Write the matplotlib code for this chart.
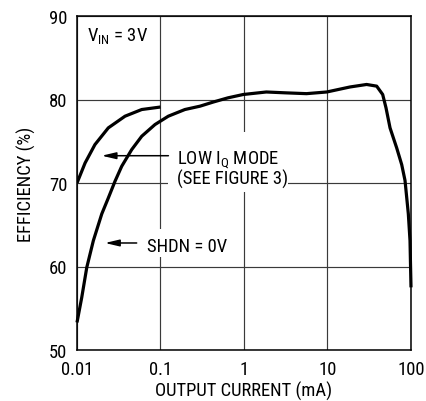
import matplotlib
matplotlib.use("Agg")
import matplotlib.pyplot as plt
from matplotlib.patches import Rectangle
from matplotlib.ticker import FixedLocator, FixedFormatter, NullLocator

font_main = 'Roboto Condensed'
plt.rcParams['font.family'] = [font_main, 'Liberation Sans', 'DejaVu Sans']
plt.rcParams['mathtext.fontset'] = 'custom'
plt.rcParams['mathtext.rm'] = font_main
plt.rcParams['mathtext.it'] = font_main
plt.rcParams['mathtext.bf'] = font_main

# Low IQ mode curve
low_iq_current = [0.01, 0.0125, 0.0164, 0.0237, 0.0376, 0.0596, 0.1]
low_iq_eff = [70.0, 72.4, 74.6, 76.6, 78.0, 78.8, 79.1]

# SHDN = 0V curve
shdn_current = [0.01, 0.0114, 0.0131, 0.0157, 0.0198, 0.0237, 0.0285, 0.0343, 0.0452, 0.0596,
                0.0859, 0.124, 0.196, 0.297, 0.43, 0.643, 0.98, 1.85, 3.1, 5.6, 9.8, 18.6,
                29.4, 38.8, 45.8, 50.2, 56.1, 67.4, 77.4, 84.8, 92.9, 97.3, 100]
shdn_eff = [53.3, 56.3, 59.9, 63.1, 66.3, 68.2, 70.2, 72.0, 74.0, 75.6,
            77.0, 78.0, 78.8, 79.2, 79.7, 80.2, 80.6, 80.9, 80.8, 80.7, 80.9, 81.5,
            81.8, 81.6, 80.6, 79.0, 76.6, 74.2, 72.2, 70.3, 66.3, 63.1, 57.5]

x_ticks = [0.01, 0.1, 1, 10, 100]
x_tick_labels = ['0.01', '0.1', '1', '10', '100']
y_ticks = [50, 60, 70, 80, 90]
y_tick_labels = ['50', '60', '70', '80', '90']

FS = 13.4

fig = plt.figure(figsize=(4.27, 4.02), dpi=100)
ax = fig.add_axes([77/427, 51/402, 334/427, 334/402])

ax.set_xscale('log')
ax.set_xlim(0.01, 100)
ax.set_ylim(50, 90)
ax.xaxis.set_major_locator(FixedLocator(x_ticks))
ax.xaxis.set_major_formatter(FixedFormatter(x_tick_labels))
ax.xaxis.set_minor_locator(NullLocator())
ax.yaxis.set_major_locator(FixedLocator(y_ticks))
ax.yaxis.set_major_formatter(FixedFormatter(y_tick_labels))
ax.tick_params(length=0, labelsize=FS, pad=7)

ax.grid(True, color='#3a3a3a', lw=0.85, zorder=0.5)
ax.set_axisbelow(True)
for s in ax.spines.values():
    s.set_linewidth(1.1)
    s.set_color('black')
    s.set_zorder(5)

ax.plot(low_iq_current, low_iq_eff, color='black', lw=2.3, solid_capstyle='butt',
        solid_joinstyle='round', zorder=4)
ax.plot(shdn_current, shdn_eff, color='black', lw=2.3, solid_capstyle='butt',
        solid_joinstyle='round', zorder=4, clip_on=False)

# white masks behind annotation text
ax.add_patch(Rectangle((0.2725, 0.473), 0.359, 0.18, transform=ax.transAxes,
                       facecolor='white', edgecolor='none', zorder=2))
ax.add_patch(Rectangle((0.1886, 0.2784), 0.27, 0.084, transform=ax.transAxes,
                       facecolor='white', edgecolor='none', zorder=2))

ax.text(0.029, 0.929, r'V$_\mathrm{IN}$ = 3V', transform=ax.transAxes, fontsize=FS,
        ha='left', va='baseline', zorder=6)
ax.text(0.2985, 0.562, r'LOW I$_\mathrm{Q}$ MODE', transform=ax.transAxes, fontsize=FS,
        ha='left', va='baseline', zorder=6)
ax.text(0.2985, 0.497, '(SEE FIGURE 3)', transform=ax.transAxes, fontsize=FS,
        ha='left', va='baseline', zorder=6)
ax.text(0.2105, 0.297, 'SHDN = 0V', transform=ax.transAxes, fontsize=FS,
        ha='left', va='baseline', zorder=6)

arrow_kw = dict(arrowstyle='-|>,head_length=0.85,head_width=0.2', lw=1.1, color='black',
                shrinkA=0, shrinkB=0, mutation_scale=10)
ax.annotate('', xy=(0.0739, 0.5817), xytext=(0.2737, 0.5817), xycoords='axes fraction',
            textcoords='axes fraction', arrowprops=arrow_kw, zorder=6)
ax.annotate('', xy=(0.0838, 0.3204), xytext=(0.1787, 0.3204), xycoords='axes fraction',
            textcoords='axes fraction', arrowprops=arrow_kw, zorder=6)

ax.set_xlabel('OUTPUT CURRENT (mA)', fontsize=FS)
ax.set_ylabel('EFFICIENCY (%)', fontsize=FS)
ax.xaxis.set_label_coords(0.5, -0.093)
ax.yaxis.set_label_coords(-0.122, 0.5)

fig.savefig('out.png', dpi=100)
